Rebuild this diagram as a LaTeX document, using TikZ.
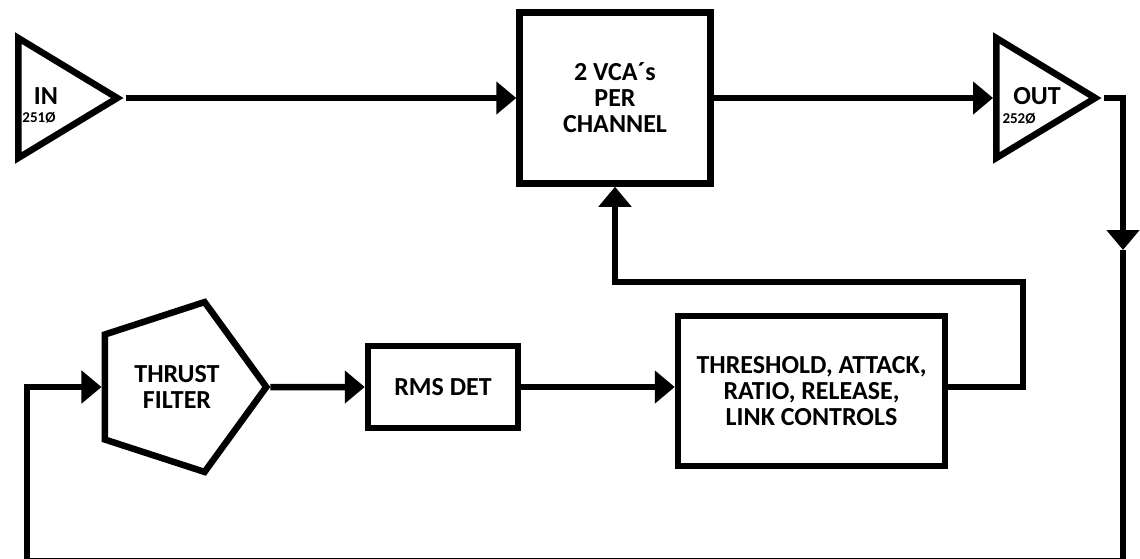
\documentclass[tikz,border=0pt]{standalone}
\usepackage{fontspec}
\setmainfont{Carlito}
\usetikzlibrary{arrows.meta,shapes.geometric,calc}

\tikzset{
  blk/.style={draw, line width=6.5pt, inner sep=0pt, align=center,
    font=\bfseries\fontsize{26}{26}\selectfont},
  amp/.style={draw, line width=6.5pt, isosceles triangle, isosceles triangle stretches,
    inner sep=0pt, minimum width=120pt, minimum height=99pt, anchor=lower side},
  tag/.style={font=\bfseries\fontsize{26}{26}\selectfont, inner sep=0pt},
  num/.style={font=\bfseries\fontsize{15}{15}\selectfont, inner sep=0pt},
  sig/.style={line width=6.5pt},
  arr/.style={sig, -{Triangle[length=20pt,width=32pt]}},
}

\begin{document}
\begin{tikzpicture}[x=1pt,y=-1pt]
  \useasboundingbox (0,0) rectangle (1140,558);
  % top row
  \node[amp] at (15,98) (in) {};
  \node[tag] at (46,96) (inlbl) {IN};
  \node[num] at (39,118) (innum) {251Ø};
  \node[blk, minimum width=191pt, minimum height=171pt] at (615,98) (vca) {2 VCA´s\\PER\\CHANNEL};
  \node[amp] at (993,98) (out) {};
  \node[tag] at (1037,96) (outlbl) {OUT};
  \node[num] at (1019,119) (outnum) {252Ø};
  % bottom row
  \node[blk, regular polygon, regular polygon sides=5, shape border rotate=-90,
        minimum size=178.6pt] at (177,387) (thrust) {THRUST\\FILTER};
  \node[blk, minimum width=150pt, minimum height=82pt] at (443,387) (rms) {RMS DET};
  \node[blk, minimum width=267pt, minimum height=150pt] at (811.5,391) (thr)
        {THRESHOLD, ATTACK,\\RATIO, RELEASE,\\LINK CONTROLS};
  \coordinate (dn) at (1123,250);
  \coordinate (br) at (1123,561);
  \coordinate (bl) at (27,561);
  \coordinate (fb) at (1023,282);

  \draw[arr] (in.apex) -- (vca.west);
  \draw[arr] (vca.east) -- (out.lower side);
  \draw[arr] (out.apex) -| (dn);
  \draw[arr] (dn) -- (br) -- (bl) |- (thrust.west);
  \draw[arr] (thrust.east) -- (rms.west);
  \draw[arr] (rms.east) -- (rms.east -| thr.west);
  \draw[arr] (thr.east |- rms.east) -| (fb) -| (vca.south);
\end{tikzpicture}
\end{document}
